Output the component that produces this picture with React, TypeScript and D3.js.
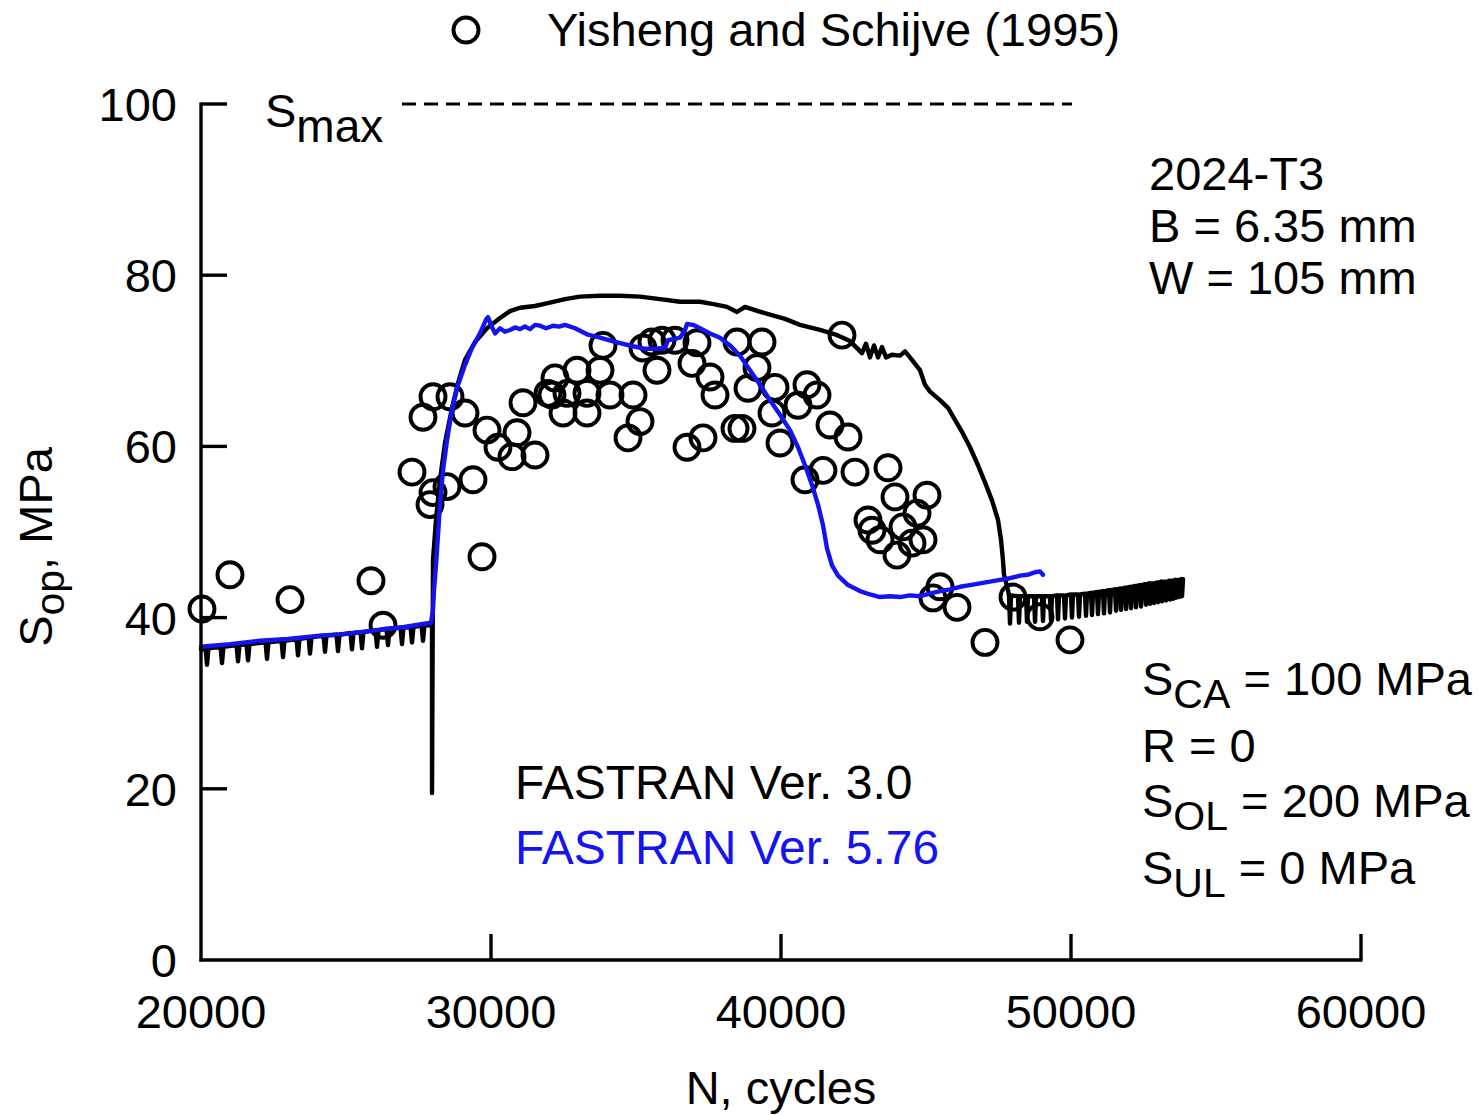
import React from "react";
import * as d3 from "d3";

// ---------- data ----------
const xTicks = [20000, 30000, 40000, 50000, 60000];
const yTicks = [0, 20, 40, 60, 80, 100];

// Yisheng and Schijve (1995) test data: [N, Sop]
const testN = [20034, 21000, 23069, 25862, 26276, 27276, 27655, 28000, 28586, 29103, 29862, 30241, 30724, 30897, 31517, 31103, 27897, 28000, 28483, 29379, 29690, 31966, 32103, 32207, 32483, 32621, 32966, 33310, 33310, 33759, 33862, 34103, 34897, 35138, 34724, 35241, 35552, 35897, 35724, 36345, 37103, 36931, 37552, 37724, 36759, 37310, 38483, 39345, 39172, 38862, 39793, 38414, 38655, 39690, 39966, 40586, 40897, 41241, 42103, 41690, 42310, 41448, 42552, 40828, 43690, 43931, 45034, 44690, 43000, 43138, 43414, 44000, 44517, 44897, 44207, 45483, 45241, 46069, 47034, 48000, 48931, 49966];
const testS = [41.0, 45.0, 42.1, 44.3, 39.1, 57.0, 63.4, 65.8, 65.8, 63.9, 61.9, 59.9, 58.8, 61.6, 59.0, 65.1, 53.2, 54.6, 55.3, 56.1, 47.1, 66.2, 66.0, 68.0, 63.9, 66.2, 68.9, 66.2, 63.9, 68.9, 71.8, 66.0, 66.0, 62.9, 61.0, 71.5, 72.2, 72.4, 68.9, 72.4, 72.1, 69.7, 68.1, 66.0, 59.9, 61.0, 72.2, 72.2, 69.2, 66.8, 66.9, 62.1, 62.1, 63.9, 60.4, 64.8, 67.2, 66.0, 73.0, 62.5, 61.1, 57.2, 57.0, 56.1, 57.5, 54.1, 54.3, 52.2, 51.4, 50.2, 49.1, 47.3, 48.7, 49.1, 50.6, 43.6, 42.3, 41.2, 37.1, 42.4, 40.1, 37.4];

// FASTRAN Ver. 3.0 (black) — before overload: sawtooth cycles
const preStartN = 20000;
const preStartS = 36.3;
const preSpikeN = [20207, 20724, 21276, 21621, 22276, 22828, 23345, 23759, 24276, 24724, 25207, 25552, 26069, 26448, 26931, 27276, 27655];
const preSpikeTop = [36.4, 36.6, 36.8, 36.9, 37.1, 37.3, 37.5, 37.7, 37.9, 38.0, 38.2, 38.3, 38.5, 38.7, 38.8, 38.9, 39.1];
const preSpikeBottom = [34.5, 34.7, 34.9, 35.0, 35.2, 35.4, 35.6, 35.8, 36.0, 36.1, 36.3, 36.4, 36.6, 36.8, 36.9, 37.1, 37.3];

// FASTRAN Ver. 3.0 — overload and retardation region
const midN = [27900, 27966, 27966, 28000, 28103, 28241, 28414, 28655, 28862, 29103, 29448, 29862, 30310, 30655, 31000, 31517, 32034, 32552, 33069, 33759, 34448, 35138, 35828, 36517, 37207, 37724, 38138, 38483, 38759, 39207, 39621, 40138, 40655, 41345, 41862, 42379, 42793, 42931, 43069, 43207, 43345, 43483, 43621, 43828, 44103, 44276, 44517, 44793, 44966, 45138, 45483, 45759, 46000, 46241, 46517, 46793, 47034, 47276, 47483, 47586, 47655, 47690, 47828];
const midS = [39.1, 39.1, 19.5, 46.7, 51.4, 56.1, 60.4, 64.5, 67.4, 70.1, 72.2, 73.8, 75.0, 75.8, 76.2, 76.4, 76.8, 77.2, 77.5, 77.6, 77.6, 77.5, 77.2, 76.9, 76.9, 76.6, 76.3, 75.7, 76.3, 75.8, 75.4, 74.9, 74.2, 73.6, 73.1, 72.3, 70.9, 72.0, 70.4, 71.8, 70.4, 71.6, 70.4, 70.7, 70.6, 71.1, 70.1, 68.9, 67.2, 66.4, 65.4, 64.5, 63.1, 61.7, 59.9, 57.8, 55.8, 53.7, 51.4, 49.1, 46.7, 45.0, 43.2];

// FASTRAN Ver. 3.0 — after retardation: sawtooth cycles
const postSpikeN = [47897, 48207, 48483, 48759, 49034, 49310, 49552, 49793, 50034, 50276, 50517, 50724, 50931, 51138, 51345, 51552, 51724, 51897, 52069, 52241, 52414, 52586, 52724, 52862, 53000, 53138, 53276, 53414, 53517, 53621, 53724, 53828];
const postSpikeTop = [42.6, 42.5, 42.5, 42.5, 42.5, 42.5, 42.6, 42.6, 42.7, 42.7, 42.8, 42.9, 43.0, 43.1, 43.2, 43.3, 43.4, 43.5, 43.6, 43.7, 43.8, 43.9, 44.0, 44.0, 44.1, 44.2, 44.2, 44.3, 44.3, 44.4, 44.4, 44.5];
const postSpikeBottom = [39.3, 39.4, 39.5, 39.5, 39.6, 39.7, 39.8, 39.9, 40.0, 40.1, 40.2, 40.3, 40.4, 40.5, 40.6, 40.8, 40.9, 41.0, 41.1, 41.2, 41.3, 41.5, 41.6, 41.7, 41.8, 41.9, 42.0, 42.1, 42.2, 42.3, 42.4, 42.5];

// FASTRAN Ver. 5.76 (blue)
const blueN = [20000, 21000, 22034, 23000, 24103, 25000, 26172, 27000, 27931, 28000, 28034, 28103, 28172, 28241, 28345, 28483, 28655, 28862, 29103, 29345, 29621, 29828, 29897, 30000, 30138, 30310, 30480, 30655, 30830, 31000, 31170, 31345, 31520, 31690, 31900, 32138, 32350, 32552, 32897, 33310, 33759, 34276, 34897, 35310, 35655, 36000, 36103, 36517, 36690, 36759, 36966, 37207, 37552, 37897, 38241, 38586, 38931, 39276, 39621, 39966, 40310, 40586, 40828, 41069, 41276, 41448, 41586, 41759, 41966, 42310, 42724, 43069, 43414, 43759, 44103, 44448, 44793, 45138, 45483, 45828, 46172, 46517, 46862, 47207, 47552, 47897, 48241, 48500, 48759, 48931, 49034];
const blueS = [36.6, 36.9, 37.3, 37.5, 37.9, 38.1, 38.6, 38.9, 39.4, 40.9, 43.2, 46.1, 49.6, 53.2, 57.2, 60.7, 64.3, 67.2, 69.5, 71.5, 73.2, 74.8, 75.1, 74.2, 73.2, 73.8, 73.4, 73.6, 73.9, 73.7, 74.0, 73.7, 74.2, 74.1, 73.8, 74.1, 74.0, 74.2, 73.8, 73.1, 72.7, 72.2, 71.7, 71.4, 71.4, 71.5, 72.4, 72.7, 73.6, 74.3, 74.2, 73.8, 73.2, 72.7, 71.8, 70.6, 68.9, 67.2, 65.4, 63.7, 61.9, 59.9, 57.8, 55.5, 53.2, 50.8, 48.1, 46.1, 44.9, 43.8, 43.1, 42.7, 42.4, 42.5, 42.4, 42.6, 42.5, 42.8, 43.1, 43.3, 43.6, 43.8, 44.0, 44.2, 44.4, 44.6, 44.9, 45.0, 45.3, 45.4, 45.0];

// S_max reference line
const smaxValue = 100;
const smaxStartN = 26931;
const smaxEndN = 50034;

// ---------- layout ----------
const W = 1478;
const H = 1115;
const FONT = "'Liberation Sans', Arial, sans-serif";
const BLUE = "#1414f0";

const x = d3.scaleLinear().domain([20000, 60000]).range([201, 1361]);
const y = d3.scaleLinear().domain([0, 100]).range([960, 104]);

function buildBlack(): [number, number][] {
  const pts: [number, number][] = [[preStartN, preStartS]];
  const d = 50;
  preSpikeN.forEach((n, i) => {
    pts.push([n - d, preSpikeTop[i]]);
    pts.push([n, preSpikeBottom[i]]);
    pts.push([n + d, preSpikeTop[i]]);
  });
  midN.forEach((n, i) => pts.push([n, midS[i]]));
  postSpikeN.forEach((n, i) => {
    pts.push([n - 35, postSpikeTop[i]]);
    pts.push([n, postSpikeBottom[i]]);
    pts.push([n + 35, postSpikeTop[i]]);
  });
  return pts;
}

export default function App() {
  const line = d3
    .line<[number, number]>()
    .x((p) => x(p[0]))
    .y((p) => y(p[1]));
  const blackPath = line(buildBlack()) || "";
  const bluePath = line(blueN.map((n, i) => [n, blueS[i]] as [number, number])) || "";

  const x0 = x(20000);
  const y0 = y(0);
  const tickLen = 26;

  return (
    <svg
      width={W}
      height={H}
      viewBox={`0 0 ${W} ${H}`}
      style={{ position: "absolute", left: 0, top: 0, background: "#fff" }}
      fontFamily={FONT}
    >
      <rect x={0} y={0} width={W} height={H} fill="#fff" />

      {/* data circles */}
      <g fill="none" stroke="#000" strokeWidth={3.9}>
        {testN.map((n, i) => (
          <circle key={i} cx={x(n)} cy={y(testS[i])} r={12.5} />
        ))}
      </g>

      {/* FASTRAN lines */}
      <path d={blackPath} fill="none" stroke="#000" strokeWidth={4.4} strokeLinejoin="round" strokeLinecap="round" />
      <path d={bluePath} fill="none" stroke={BLUE} strokeWidth={4.4} strokeLinejoin="round" strokeLinecap="round" />

      {/* Smax dashed line */}
      <line
        x1={x(smaxStartN)}
        x2={x(smaxEndN)}
        y1={y(smaxValue)}
        y2={y(smaxValue)}
        stroke="#000"
        strokeWidth={3.2}
        strokeDasharray="14 8"
      />

      {/* axes */}
      <line x1={x0} x2={x0} y1={y(100) - 1.5} y2={y0 + 1.5} stroke="#000" strokeWidth={3.4} />
      <line x1={x0 - 1.5} x2={x(60000) + 1.5} y1={y0} y2={y0} stroke="#000" strokeWidth={3.4} />
      {yTicks.map((t) => (
        <g key={"y" + t}>
          {t > 0 && <line x1={x0} x2={x0 + tickLen} y1={y(t)} y2={y(t)} stroke="#000" strokeWidth={3.4} />}
          <text x={177} y={y(t) + 17} fontSize={47} textAnchor="end" fill="#000">
            {t}
          </text>
        </g>
      ))}
      {xTicks.map((t) => (
        <g key={"x" + t}>
          {t > 20000 && <line x1={x(t)} x2={x(t)} y1={y0} y2={y0 - tickLen} stroke="#000" strokeWidth={3.4} />}
          <text x={x(t)} y={1028} fontSize={47} textAnchor="middle" fill="#000">
            {t}
          </text>
        </g>
      ))}

      {/* axis titles */}
      <text x={781} y={1104} fontSize={47} textAnchor="middle" fill="#000">
        N, cycles
      </text>
      <text transform="translate(52,547) rotate(-90)" fontSize={47} textAnchor="middle" fill="#000">
        S<tspan fontSize={41} dy={12}>op</tspan>
        <tspan dy={-12}>, MPa</tspan>
      </text>

      {/* legend */}
      <circle cx={466} cy={30} r={12.5} fill="none" stroke="#000" strokeWidth={3.9} />
      <text x={547} y={46} fontSize={47} fill="#000">
        Yisheng and Schijve (1995)
      </text>

      {/* Smax label */}
      <text x={265} y={127} fontSize={47} fill="#000">
        S<tspan fontSize={46} dy={15}>max</tspan>
      </text>

      {/* material info */}
      <g fontSize={47} fill="#000">
        <text x={1149} y={190}>2024-T3</text>
        <text x={1149} y={242}>B = 6.35 mm</text>
        <text x={1149} y={294}>W = 105 mm</text>
      </g>

      {/* loading info */}
      <g fontSize={47} fill="#000">
        <text x={1142} y={695}>
          S<tspan fontSize={41} dy={13}>CA</tspan>
          <tspan dy={-13}> = 100 MPa</tspan>
        </text>
        <text x={1142} y={762}>R = 0</text>
        <text x={1142} y={817}>
          S<tspan fontSize={41} dy={13}>OL</tspan>
          <tspan dy={-13}> = 200 MPa</tspan>
        </text>
        <text x={1142} y={884}>
          S<tspan fontSize={41} dy={13}>UL</tspan>
          <tspan dy={-13}> = 0 MPa</tspan>
        </text>
      </g>

      {/* model labels */}
      <text x={515} y={799} fontSize={48} fill="#000">
        FASTRAN Ver. 3.0
      </text>
      <text x={515} y={864} fontSize={48} fill={BLUE}>
        FASTRAN Ver. 5.76
      </text>
    </svg>
  );
}
